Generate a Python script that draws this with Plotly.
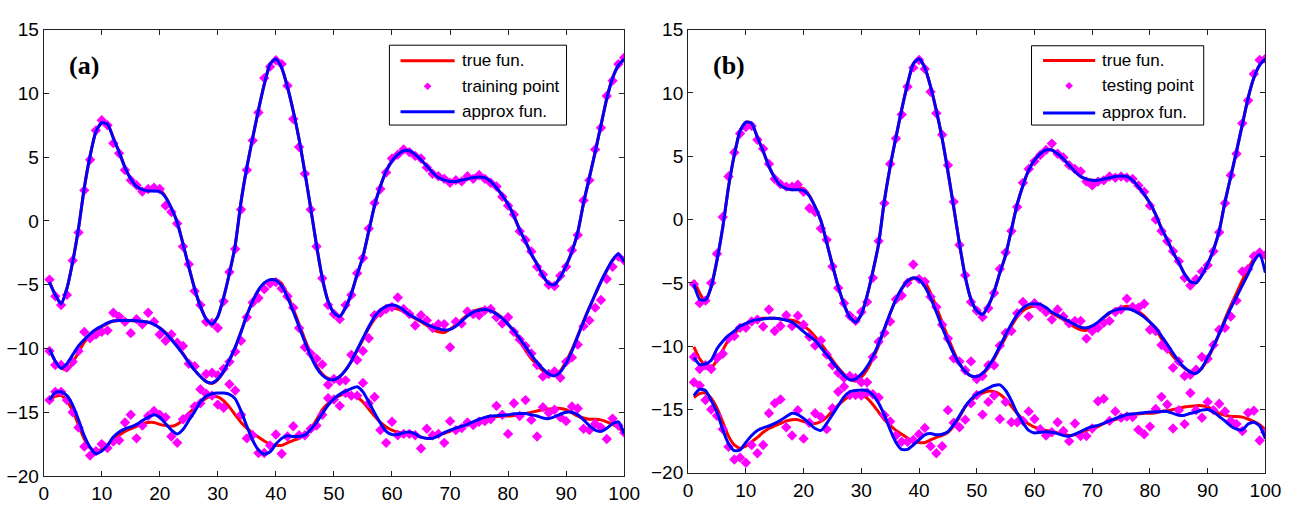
import plotly.graph_objects as go

W, H = 1306, 510

X = list(range(1, 101))

# ---- true functions (shared by both panels) ----
TRUE_TOP = [
    -4.8, -5.8, -6.5, -5.3, -3.2, -0.6, 2.6, 5.1, 7.0, 7.7,
    7.6, 6.5, 5.4, 4.2, 3.3, 2.7, 2.45, 2.45, 2.5, 2.45,
    1.9, 1.0, -0.1, -1.8, -3.6, -5.3, -6.7, -7.7, -8.1, -7.5,
    -6.0, -4.1, -1.9, 1.5, 4.2, 6.5, 8.7, 10.7, 12.3, 12.7,
    12.0, 10.5, 8.6, 6.4, 3.8, 1.0, -1.9, -4.5, -6.3, -7.2,
    -7.5, -6.8, -5.7, -4.2, -2.8, -0.8, 1.2, 2.7, 3.9, 4.7,
    5.2, 5.5, 5.5, 5.2, 4.8, 4.3, 3.8, 3.4, 3.2, 3.1,
    3.1, 3.2, 3.3, 3.4, 3.45, 3.4, 3.1, 2.6, 2.0, 1.3,
    0.4, -0.7, -1.6, -2.6, -3.4, -4.3, -4.9, -5.0, -4.4, -3.5,
    -2.4, -0.9, 1.4, 3.4, 5.4, 7.5, 9.6, 11.2, 12.2, 12.7,
]
TRUE_MID = [
    -10.05, -11.0, -11.5, -11.7, -11.1, -10.3, -9.5, -9.0, -8.6, -8.3,
    -8.05, -7.85, -7.8, -7.8, -7.8, -7.85, -7.9, -7.95, -8.1, -8.4,
    -8.75, -9.25, -9.8, -10.4, -11.1, -11.7, -12.2, -12.6, -12.75, -12.45,
    -11.85, -10.95, -9.95, -8.7, -7.4, -6.3, -5.45, -4.9, -4.65, -4.6,
    -4.9, -5.8, -6.9, -8.1, -9.3, -10.4, -11.35, -12.0, -12.35, -12.4,
    -12.2, -11.7, -11.0, -10.15, -9.3, -8.4, -7.7, -7.2, -6.95, -6.85,
    -6.9, -7.1, -7.4, -7.65, -7.9, -8.2, -8.5, -8.7, -8.75, -8.5,
    -8.15, -7.75, -7.4, -7.1, -6.95, -6.85, -6.95, -7.25, -7.6, -8.1,
    -8.7, -9.4, -10.15, -10.8, -11.3, -11.75, -12.0, -12.05, -11.75, -11.0,
    -10.1, -9.0, -7.85, -6.8, -5.8, -4.8, -3.9, -3.1, -2.75, -3.05,
]
TRUE_BOT = [
    -14.05, -13.75, -13.7, -14.1, -14.9, -16.0, -17.1, -17.8, -18.05, -17.9,
    -17.55, -17.2, -16.8, -16.5, -16.3, -16.1, -15.9, -15.8, -15.8, -15.95,
    -16.05, -16.1, -15.95, -15.6, -15.1, -14.65, -14.25, -13.9, -13.75, -13.8,
    -14.1, -14.6, -15.2, -15.8, -16.25, -16.65, -16.95, -17.25, -17.5, -17.6,
    -17.6, -17.4, -17.2, -17.05, -16.8, -16.3, -15.6, -14.8, -14.3, -13.95,
    -13.7, -13.55, -13.6, -13.8, -14.2, -14.75, -15.3, -15.8, -16.15, -16.4,
    -16.55, -16.65, -16.7, -16.85, -16.95, -17.05, -17.0, -16.8, -16.65, -16.5,
    -16.35, -16.1, -15.9, -15.8, -15.65, -15.45, -15.4, -15.35, -15.3, -15.3,
    -15.25, -15.15, -15.1, -15.0, -14.9, -14.8, -14.75, -14.7, -14.7, -14.8,
    -15.05, -15.3, -15.45, -15.55, -15.55, -15.6, -15.75, -15.95, -16.2, -16.6,
]

# ---- panel (a): approximation and training points ----
APPROX_TOP_A = [
    -4.8, -5.8, -6.5, -5.3, -3.2, -0.6, 2.6, 5.1, 7.0, 7.7,
    7.6, 6.5, 5.4, 4.2, 3.3, 2.7, 2.45, 2.35, 2.35, 2.3,
    1.85, 1.0, -0.1, -1.8, -3.6, -5.3, -6.7, -7.7, -8.1, -7.5,
    -6.0, -4.1, -1.9, 1.5, 4.2, 6.5, 8.7, 10.7, 12.3, 12.7,
    12.0, 10.5, 8.6, 6.4, 3.8, 1.0, -1.9, -4.5, -6.3, -7.2,
    -7.5, -6.8, -5.7, -4.2, -2.8, -0.8, 1.2, 2.7, 3.9, 4.7,
    5.2, 5.5, 5.5, 5.2, 4.8, 4.3, 3.8, 3.4, 3.2, 3.1,
    3.1, 3.2, 3.3, 3.4, 3.45, 3.4, 3.1, 2.6, 2.0, 1.3,
    0.4, -0.7, -1.6, -2.6, -3.4, -4.3, -4.9, -5.0, -4.4, -3.5,
    -2.4, -0.9, 1.4, 3.4, 5.4, 7.5, 9.6, 11.2, 12.2, 12.7,
]
APPROX_MID_A = [
    -10.05, -11.0, -11.55, -11.2, -10.5, -9.8, -9.3, -8.85, -8.5, -8.25,
    -8.0, -7.85, -7.8, -7.8, -7.8, -7.82, -7.88, -7.95, -8.1, -8.4,
    -8.8, -9.3, -9.85, -10.45, -11.1, -11.7, -12.2, -12.6, -12.7, -12.4,
    -11.8, -10.9, -9.9, -8.7, -7.4, -6.3, -5.4, -4.85, -4.6, -4.65,
    -5.1, -6.0, -7.1, -8.3, -9.5, -10.6, -11.5, -12.1, -12.4, -12.45,
    -12.2, -11.7, -11.0, -10.1, -9.2, -8.3, -7.5, -7.0, -6.7, -6.6,
    -6.7, -7.0, -7.35, -7.6, -7.85, -8.1, -8.3, -8.45, -8.55, -8.5,
    -8.25, -7.85, -7.45, -7.15, -7.0, -6.95, -7.05, -7.3, -7.65, -8.1,
    -8.6, -9.2, -9.85, -10.5, -11.1, -11.6, -12.0, -12.15, -11.85, -11.15,
    -10.2, -9.05, -7.9, -6.8, -5.75, -4.75, -3.85, -3.05, -2.6, -3.2,
]
APPROX_BOT_A = [
    -14.05, -13.45, -13.4, -13.7, -14.45, -15.6, -16.85, -17.75, -18.25, -18.05,
    -17.6, -16.95, -16.55, -16.3, -16.15, -15.95, -15.65, -15.4, -15.2, -15.4,
    -15.9, -16.4, -16.7, -16.35, -15.65, -14.95, -14.2, -13.75, -13.55, -13.5,
    -13.5, -13.6, -13.95, -14.9, -16.1, -17.2, -17.95, -18.3, -18.1, -17.5,
    -17.05, -16.85, -16.9, -16.9, -16.8, -16.35, -15.8, -15.1, -14.45, -13.95,
    -13.6, -13.35, -13.15, -13.0, -13.4, -14.2, -15.05, -15.85, -16.5, -16.75,
    -16.75, -16.6, -16.55, -16.7, -16.95, -17.05, -17.05, -16.85, -16.6, -16.4,
    -16.25, -16.1, -15.95, -15.75, -15.55, -15.4, -15.3, -15.27, -15.25, -15.2,
    -15.12, -15.1, -15.1, -15.2, -15.3, -15.45, -15.5, -15.35, -15.15, -15.0,
    -15.0, -15.2, -15.6, -16.05, -16.4, -16.5, -16.25, -15.9, -15.75, -16.7,
]
TRAIN_TOP = [
    -4.6, -5.9, -6.6, -5.8, -3.1, -0.9, 2.4, 4.8, 7.1, 7.9,
    7.5, 6.1, 5.3, 4.0, 3.2, 2.8, 2.3, 2.5, 2.6, 2.5,
    1.2, 0.7, -0.2, -2.0, -3.4, -5.5, -6.6, -7.9, -8.0, -8.4,
    -6.3, -4.0, -2.2, 0.9, 4.0, 6.3, 8.5, 11.2, 12.1, 12.6,
    12.3, 10.6, 8.0, 5.8, 3.7, 0.9, -2.0, -4.5, -6.6, -7.3,
    -7.7, -6.6, -5.8, -4.1, -2.9, -0.6, 1.4, 2.5, 3.8, 4.9,
    5.2, 5.6, 5.4, 5.1, 4.9, 4.2, 3.7, 3.5, 3.3, 3.0,
    3.2, 3.1, 3.5, 3.3, 3.6, 3.3, 3.0, 2.7, 1.9, 1.2,
    0.5, -0.8, -1.5, -2.4, -3.6, -4.2, -5.0, -5.1, -4.3, -3.6,
    -2.3, -1.1, 1.6, 3.2, 5.6, 7.3, 9.8, 11.0, 12.3, 12.8,
]
TRAIN_MID = [
    -10.2, -11.3, -11.3, -11.5, -11.05, -10.2, -8.7, -9.2, -8.9, -8.7,
    -8.6, -7.2, -7.5, -7.9, -8.8, -7.7, -8.1, -7.2, -7.9, -8.9,
    -9.4, -8.9, -9.55, -9.8, -11.2, -11.4, -13.2, -12.0, -11.9, -12.1,
    -11.6, -11.05, -10.25, -9.4, -7.55, -6.4, -6.05, -5.35, -4.9, -4.8,
    -5.3, -5.9, -6.8, -8.4, -9.9, -10.4, -10.8, -11.25, -12.85, -12.4,
    -12.55, -12.5, -10.5, -10.9, -10.2, -9.2, -7.4, -7.2, -6.9, -6.75,
    -6.0, -6.9, -7.3, -8.2, -7.4, -7.8, -8.4, -8.1, -8.1, -9.9,
    -7.9, -8.05, -7.1, -7.3, -7.4, -7.0, -6.9, -7.55, -8.05, -7.55,
    -8.7, -9.3, -9.8, -10.4, -11.3, -12.2, -12.0, -11.8, -12.3, -11.05,
    -10.7, -9.7, -8.25, -7.8, -6.8, -6.2, -4.55, -3.6, -2.8, -3.1,
]
TRAIN_BOT = [
    -14.05, -13.4, -13.4, -14.05, -15.0, -16.2, -17.7, -18.4, -18.05, -17.5,
    -17.8, -17.3, -17.2, -15.8, -15.2, -17.05, -16.05, -15.3, -14.9, -15.2,
    -15.4, -16.9, -17.4, -15.55, -15.3, -14.55, -14.3, -13.55, -13.7, -14.4,
    -14.65, -12.8, -13.3, -15.2, -17.05, -16.8, -18.2, -18.2, -17.6, -16.75,
    -18.25, -16.9, -16.1, -16.8, -16.8, -16.3, -16.05, -15.2, -13.9, -14.0,
    -14.5, -13.5, -13.7, -13.7, -12.7, -14.3, -13.8, -16.4, -17.4, -15.75,
    -16.8, -16.7, -16.7, -16.8, -17.85, -16.3, -16.8, -16.7, -17.4, -15.7,
    -16.4, -16.25, -15.8, -16.0, -15.75, -15.7, -15.55, -14.5, -15.2, -16.7,
    -14.3, -15.3, -14.05, -15.6, -16.9, -14.6, -15.05, -14.8, -15.4, -15.7,
    -14.55, -14.7, -16.3, -16.4, -15.9, -16.2, -17.1, -15.5, -16.05, -16.6,
]

# ---- panel (b): approximation and testing points ----
APPROX_TOP_B = [
    -5.1, -6.3, -6.35, -5.3, -3.2, -0.6, 2.6, 5.1, 7.0, 7.7,
    7.6, 6.5, 5.4, 4.2, 3.3, 2.7, 2.45, 2.35, 2.35, 2.3,
    1.85, 1.0, -0.1, -1.8, -3.6, -5.3, -6.7, -7.7, -8.1, -7.5,
    -6.0, -4.1, -1.9, 1.5, 4.2, 6.5, 8.7, 10.7, 12.3, 12.7,
    12.0, 10.5, 8.6, 6.4, 3.8, 1.0, -1.9, -4.5, -6.3, -7.2,
    -7.5, -6.8, -5.7, -4.2, -2.8, -0.8, 1.2, 2.7, 3.9, 4.7,
    5.2, 5.5, 5.5, 5.2, 4.8, 4.3, 3.8, 3.4, 3.2, 3.1,
    3.1, 3.2, 3.3, 3.4, 3.45, 3.4, 3.1, 2.6, 2.0, 1.3,
    0.4, -0.7, -1.6, -2.6, -3.4, -4.3, -4.9, -5.0, -4.4, -3.5,
    -2.4, -0.9, 1.4, 3.4, 5.4, 7.5, 9.6, 11.2, 12.2, 12.7,
]
APPROX_MID_B = [
    -10.9, -11.45, -11.4, -11.1, -10.2, -9.6, -9.15, -8.8, -8.4, -8.2,
    -8.0, -7.9, -7.85, -7.8, -7.8, -7.85, -7.95, -8.1, -8.45, -8.85,
    -9.2, -9.55, -10.1, -10.65, -11.25, -11.8, -12.3, -12.65, -12.6, -12.2,
    -11.6, -10.8, -9.8, -8.6, -7.4, -6.3, -5.45, -4.85, -4.6, -4.75,
    -5.3, -6.2, -7.3, -8.5, -9.6, -10.6, -11.4, -12.0, -12.35, -12.4,
    -12.15, -11.6, -10.9, -10.0, -9.1, -8.25, -7.5, -7.0, -6.7, -6.65,
    -6.7, -6.95, -7.3, -7.55, -7.8, -8.05, -8.3, -8.5, -8.55, -8.4,
    -8.1, -7.7, -7.35, -7.15, -7.05, -7.05, -7.15, -7.4, -7.7, -8.1,
    -8.55, -9.2, -9.85, -10.55, -11.2, -11.7, -12.05, -12.15, -11.7, -10.9,
    -10.0, -9.0, -8.0, -7.0, -6.1, -5.2, -4.3, -3.3, -2.75, -4.2,
]
APPROX_BOT_B = [
    -13.9, -13.4, -13.5, -14.3, -15.2, -16.6, -17.7, -18.25, -18.2, -17.6,
    -17.05, -16.65, -16.45, -16.3, -16.1, -15.85, -15.55, -15.3, -15.4, -15.7,
    -16.1, -16.5, -16.65, -16.1, -15.4, -14.7, -14.0, -13.6, -13.5, -13.45,
    -13.5, -13.85, -14.5, -15.45, -16.6, -17.6, -18.15, -18.15, -17.8, -17.4,
    -17.0, -16.9, -17.0, -16.95, -16.75, -16.2, -15.5, -14.75, -14.2, -13.8,
    -13.55, -13.3, -13.1, -13.05, -13.5, -14.3, -15.3, -16.05, -16.65, -16.85,
    -16.8, -16.75, -16.8, -16.9, -17.05, -17.1, -16.95, -16.75, -16.5, -16.35,
    -16.25, -16.1, -15.9, -15.7, -15.55, -15.4, -15.35, -15.3, -15.25, -15.2,
    -15.2, -15.15, -15.15, -15.3, -15.45, -15.45, -15.3, -15.2, -15.05, -15.0,
    -15.2, -15.55, -15.9, -16.3, -16.55, -16.6, -16.15, -16.0, -16.3, -17.3,
]
TEST_TOP = [
    -5.1, -6.6, -6.4, -5.0, -2.7, 0.2, 3.4, 5.3, 6.8, 7.3,
    7.4, 6.3, 5.6, 4.4, 3.2, 2.8, 2.6, 2.6, 2.75, 2.2,
    0.9, 0.6, -0.7, -1.6, -3.7, -5.4, -6.6, -7.6, -8.0, -7.3,
    -6.5, -4.6, -1.7, 1.3, 4.4, 6.4, 8.3, 10.5, 12.0, 12.6,
    11.9, 10.1, 8.4, 6.7, 4.3, 1.4, -2.0, -4.4, -6.5, -7.2,
    -7.7, -7.0, -5.8, -3.9, -2.6, -0.9, 1.0, 2.9, 4.0, 4.6,
    5.1, 5.5, 6.0, 5.2, 4.9, 4.3, 4.0, 3.8, 3.0, 2.7,
    3.0, 3.1, 3.4, 3.3, 3.4, 3.3, 3.2, 2.7, 2.2, 1.1,
    0.0, -0.9, -1.7, -2.5, -3.3, -4.6, -5.2, -4.7, -4.1, -3.6,
    -2.5, -1.0, 1.3, 3.5, 5.2, 7.6, 9.4, 11.5, 12.6, 12.7,
]
TEST_MID = [
    -10.85, -11.8, -11.5, -11.8, -10.95, -10.6, -9.4, -9.2, -8.55, -8.55,
    -8.05, -7.9, -8.45, -7.1, -8.8, -8.4, -7.55, -8.4, -7.6, -8.3,
    -9.25, -9.95, -9.55, -10.65, -11.5, -12.1, -12.5, -12.35, -12.5, -12.85,
    -12.85, -10.85, -9.65, -8.95, -8.05, -6.3, -6.0, -5.0, -3.55, -4.7,
    -4.9, -6.1, -6.9, -8.3, -9.4, -10.95, -11.2, -11.9, -11.2, -12.6,
    -12.35, -11.5, -11.5, -9.95, -8.95, -8.8, -7.4, -6.5, -7.65, -6.6,
    -6.9, -7.3, -7.9, -7.1, -7.65, -8.2, -8.0, -8.0, -9.4, -8.8,
    -8.55, -8.15, -8.0, -7.3, -7.1, -6.25, -6.9, -6.95, -6.65, -8.7,
    -8.8, -9.9, -10.2, -11.7, -11.2, -12.35, -12.25, -11.85, -10.85, -11.0,
    -9.9, -8.7, -8.55, -7.65, -6.4, -4.1, -3.9, -2.9, -2.6, -2.8,
]
TEST_BOT = [
    -12.85, -13.1, -14.25, -15.0, -15.5, -16.55, -17.95, -18.95, -18.8, -19.2,
    -17.8, -18.45, -17.8, -15.3, -14.5, -14.2, -16.4, -17.05, -15.05, -17.3,
    -16.05, -15.3, -15.6, -16.55, -14.9, -13.6, -13.2, -13.85, -13.85, -13.9,
    -13.65, -13.8, -14.05, -15.45, -15.95, -17.05, -17.55, -17.55, -17.4, -16.95,
    -16.45, -17.9, -18.45, -17.9, -15.05, -16.05, -16.4, -15.8, -14.5, -13.85,
    -15.4, -14.4, -13.9, -15.75, -14.4, -16.0, -16.0, -15.9, -15.15, -15.75,
    -16.55, -17.05, -16.8, -16.0, -16.7, -17.5, -16.1, -17.1, -17.1, -16.5,
    -14.35, -14.15, -15.9, -15.15, -15.65, -15.55, -15.6, -16.6, -16.95, -16.35,
    -14.95, -14.0, -14.6, -16.5, -15.05, -16.15, -13.7, -15.05, -15.65, -14.4,
    -15.05, -14.55, -15.15, -15.9, -16.15, -16.7, -15.25, -15.1, -17.45, -16.8,
]

X_TICKS = [0, 10, 20, 30, 40, 50, 60, 70, 80, 90, 100]
Y_TICKS = [-20, -15, -10, -5, 0, 5, 10, 15]

RED = "#ff0000"
BLUE = "#0000ff"
MAGENTA = "#ff00ff"
LINE_W = 3.0


def px_x(v):
    return v / W


def px_y(v):
    return 1 - v / H


panels = [
    dict(ax="", tag="(a)", pts_label="training point",
         approx=[APPROX_TOP_A, APPROX_MID_A, APPROX_BOT_A],
         pts=[TRAIN_TOP, TRAIN_MID, TRAIN_BOT],
         box=(39.3, 629.3, 20.5, 486.0),
         legend=dict(box=(390.7, 570.7, 36.7, 120.0), line=(402, 457),
                     text_x=462, rows=(53.0, 79.5, 106.0)),
         tag_pos=(63, 58)),
    dict(ax="2", tag="(b)", pts_label="testing point",
         approx=[APPROX_TOP_B, APPROX_MID_B, APPROX_BOT_B],
         pts=[TEST_TOP, TEST_MID, TEST_BOT],
         box=(694.3, 1281.0, 20.5, 482.7),
         legend=dict(box=(1043.3, 1218.3, 37.3, 120.0), line=(1055, 1108),
                     text_x=1113, rows=(52.7, 79.0, 107.3)),
         tag_pos=(718, 58)),
]

true_curves = [TRUE_TOP, TRUE_MID, TRUE_BOT]

fig = go.Figure()
shapes = []
annotations = []

for p in panels:
    xa, ya = "x" + p["ax"], "y" + p["ax"]
    for k in range(3):
        fig.add_trace(go.Scatter(
            x=X, y=true_curves[k], mode="lines", name="true fun.",
            line=dict(color=RED, width=LINE_W, shape="spline", smoothing=0.6),
            xaxis=xa, yaxis=ya, showlegend=False, hoverinfo="skip"))
    for k in range(3):
        fig.add_trace(go.Scatter(
            x=X, y=p["pts"][k], mode="markers", name=p["pts_label"],
            marker=dict(symbol="diamond", size=8, color=MAGENTA, line=dict(width=0)),
            xaxis=xa, yaxis=ya, showlegend=False))
    for k in range(3):
        fig.add_trace(go.Scatter(
            x=X, y=p["approx"][k], mode="lines", name="approx fun.",
            line=dict(color=BLUE, width=LINE_W, shape="spline", smoothing=0.6),
            xaxis=xa, yaxis=ya, showlegend=False, hoverinfo="skip"))

    # legend box drawn on top of the curves
    lg = p["legend"]
    x0, x1, y0, y1 = lg["box"]
    shapes.append(dict(type="rect", xref="paper", yref="paper",
                       x0=px_x(x0), x1=px_x(x1), y0=px_y(y1), y1=px_y(y0),
                       line=dict(color="#000000", width=1), fillcolor="white",
                       layer="above"))
    lx0, lx1 = lg["line"]
    for row, col in ((0, RED), (2, BLUE)):
        yy = px_y(lg["rows"][row])
        shapes.append(dict(type="line", xref="paper", yref="paper",
                           x0=px_x(lx0), x1=px_x(lx1), y0=yy, y1=yy,
                           line=dict(color=col, width=LINE_W), layer="above"))
    cx, cy, r = (lx0 + lx1) / 2, lg["rows"][1], 4.0
    shapes.append(dict(
        type="path", xref="paper", yref="paper", layer="above",
        path=(f"M{px_x(cx - r)},{px_y(cy)} L{px_x(cx)},{px_y(cy - r)} "
              f"L{px_x(cx + r)},{px_y(cy)} L{px_x(cx)},{px_y(cy + r)} Z"),
        fillcolor=MAGENTA, line=dict(width=0)))
    for row, label in enumerate(["true fun.", p["pts_label"], "approx fun."]):
        annotations.append(dict(
            xref="paper", yref="paper", x=px_x(lg["text_x"]), y=px_y(lg["rows"][row]),
            xanchor="left", yanchor="middle", showarrow=False, text=label,
            font=dict(family="Liberation Sans, Arial, sans-serif", size=17, color="#000000")))

    annotations.append(dict(
        xref="paper", yref="paper", x=px_x(p["tag_pos"][0]), y=px_y(p["tag_pos"][1]),
        xanchor="left", yanchor="middle", showarrow=False, text=p["tag"],
        font=dict(family="Liberation Serif, Times New Roman, serif", size=26,
                  color="#000000", weight="bold")))

axis_common = dict(
    showgrid=False, zeroline=False, showline=True, mirror="ticks",
    linecolor="#222222", linewidth=1.2, ticks="inside", ticklen=5,
    tickcolor="#222222", tickwidth=1.2,
    tickfont=dict(family="Liberation Sans, Arial, sans-serif", size=19, color="#000000"),
)

layout = dict(
    width=W, height=H, margin=dict(l=0, r=0, t=0, b=0),
    paper_bgcolor="white", plot_bgcolor="white",
    shapes=shapes, annotations=annotations, showlegend=False,
)
for p in panels:
    bx0, bx1, by0, by1 = p["box"]
    layout["xaxis" + p["ax"]] = dict(
        axis_common, domain=[px_x(bx0), px_x(bx1)], range=[0, 100],
        tickvals=X_TICKS, anchor="y" + p["ax"])
    layout["yaxis" + p["ax"]] = dict(
        axis_common, domain=[px_y(by1), px_y(by0)], range=[-20, 15],
        tickvals=Y_TICKS, anchor="x" + p["ax"])

fig.update_layout(**layout)
fig.write_html("out.html")
